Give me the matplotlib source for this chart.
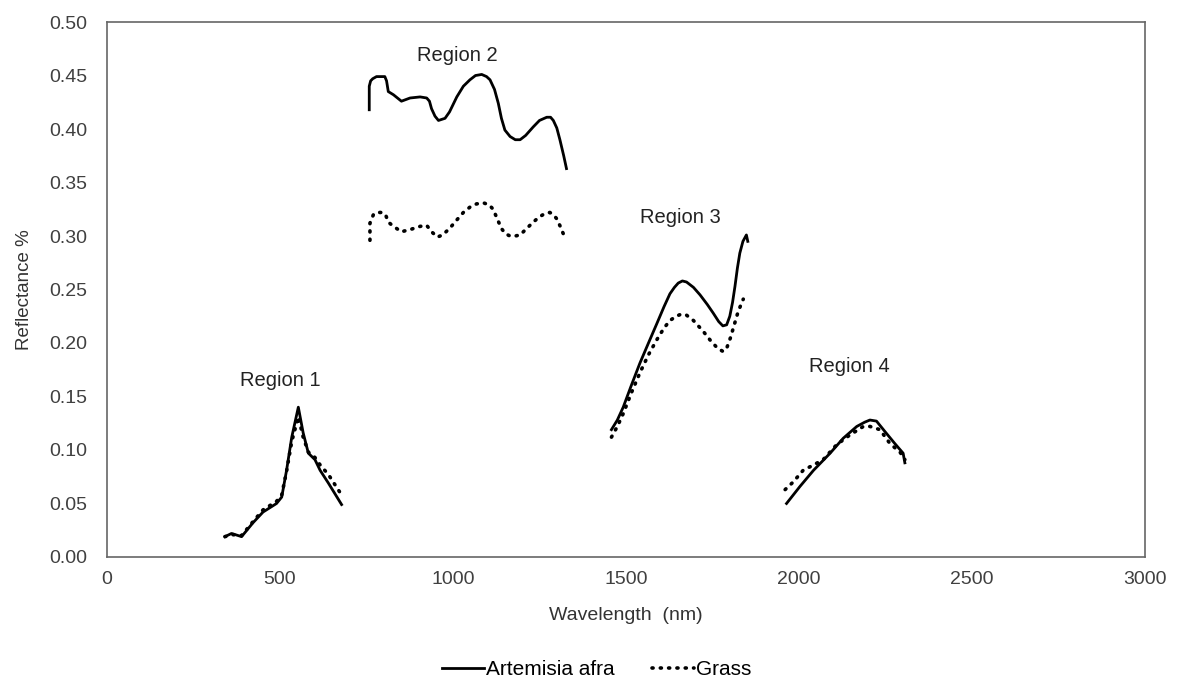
import matplotlib.pyplot as plt
import numpy as np

plt.rcParams['font.family'] = ['Liberation Sans', 'DejaVu Sans']

# Region 1
r1_wl = [341, 360, 389, 422, 451, 490, 505, 519, 534, 553, 567, 582, 601, 616, 640, 678]
r1_art = [0.019, 0.022, 0.019, 0.032, 0.042, 0.050, 0.056, 0.081, 0.112, 0.140, 0.116, 0.097, 0.091, 0.081, 0.069, 0.049]
r1_grass = [0.019, 0.021, 0.020, 0.033, 0.044, 0.052, 0.058, 0.080, 0.108, 0.131, 0.112, 0.098, 0.093, 0.086, 0.077, 0.058]

# Region 2
r2_wl = [758, 758, 762, 768, 779, 803, 808, 813, 828, 851, 876, 905, 924, 932, 938, 948, 958, 977,
         990, 1011, 1030, 1049, 1065, 1083, 1097, 1107, 1120, 1131, 1140, 1150, 1165, 1180, 1194,
         1210, 1232, 1250, 1271, 1282, 1290, 1300, 1309, 1320, 1328]
r2_art = [0.418, 0.440, 0.445, 0.447, 0.449, 0.449, 0.445, 0.435, 0.432, 0.426, 0.429, 0.430, 0.429,
          0.426, 0.419, 0.412, 0.408, 0.410, 0.416, 0.430, 0.440, 0.446, 0.450, 0.451, 0.449, 0.446,
          0.437, 0.424, 0.410, 0.399, 0.393, 0.390, 0.390, 0.394, 0.402, 0.408, 0.411, 0.411, 0.408,
          0.401, 0.390, 0.375, 0.363]
r2_gwl = [760, 760, 770, 780, 795, 805, 813, 828, 851, 876, 905, 924, 938, 955, 970, 990, 1011, 1030,
          1049, 1068, 1088, 1105, 1116, 1128, 1140, 1152, 1165, 1180, 1194, 1213, 1232, 1250, 1266,
          1280, 1290, 1300, 1310, 1324]
r2_grass = [0.296, 0.312, 0.320, 0.322, 0.322, 0.320, 0.313, 0.309, 0.304, 0.306, 0.309, 0.310, 0.304,
            0.299, 0.301, 0.307, 0.315, 0.322, 0.327, 0.330, 0.331, 0.329, 0.325, 0.316, 0.307, 0.302,
            0.300, 0.300, 0.301, 0.307, 0.313, 0.318, 0.321, 0.322, 0.320, 0.316, 0.309, 0.298]

# Region 3
r3_wl = [1458, 1475, 1492, 1515, 1540, 1565, 1589, 1610, 1627, 1640, 1651, 1663, 1675, 1695, 1714,
         1735, 1752, 1768, 1780, 1791, 1800, 1808, 1815, 1822, 1829, 1838, 1848, 1852]
r3_art = [0.119, 0.128, 0.140, 0.160, 0.181, 0.200, 0.218, 0.234, 0.246, 0.252, 0.256, 0.258, 0.257,
          0.252, 0.245, 0.236, 0.228, 0.220, 0.216, 0.217, 0.225, 0.238, 0.253, 0.270, 0.284, 0.295,
          0.301, 0.295]
r3_gwl = [1458, 1475, 1492, 1515, 1540, 1565, 1589, 1610, 1627, 1645, 1660, 1675, 1695, 1723, 1745,
          1765, 1781, 1792, 1802, 1812, 1822, 1830, 1839]
r3_grass = [0.112, 0.122, 0.134, 0.153, 0.172, 0.189, 0.203, 0.214, 0.221, 0.225, 0.227, 0.226, 0.221,
            0.211, 0.202, 0.195, 0.192, 0.196, 0.205, 0.216, 0.227, 0.234, 0.241]

# Region 4
r4_wl = [1964, 2003, 2042, 2090, 2128, 2167, 2190, 2205, 2224, 2249, 2277, 2301, 2306]
r4_art = [0.050, 0.066, 0.081, 0.097, 0.111, 0.122, 0.126, 0.128, 0.127, 0.117, 0.106, 0.097, 0.088]
r4_gwl = [1960, 1983, 2012, 2042, 2070, 2109, 2147, 2186, 2205, 2234, 2263, 2292, 2306]
r4_grass = [0.063, 0.070, 0.081, 0.086, 0.091, 0.105, 0.114, 0.122, 0.122, 0.119, 0.106, 0.098, 0.091]

region_names = ['Region 1', 'Region 2', 'Region 3', 'Region 4']
region_pos = [(500, 0.165), (1012, 0.469), (1656, 0.317), (2147, 0.178)]

fig = plt.figure(figsize=(11.77, 6.84), dpi=100)
ax = fig.add_axes([0.0909, 0.1857, 0.8819, 0.7821])

solid = dict(color='black', lw=2.0, ls='-')
dotted = dict(color='black', lw=2.6, ls=(0, (0.3, 2.0)), dash_capstyle='round')

ax.plot(r1_wl, r1_art, label='Artemisia afra', **solid)
ax.plot(r1_wl, r1_grass, label='Grass', **dotted)
ax.plot(r2_wl, r2_art, **solid)
ax.plot(r2_gwl, r2_grass, **dotted)
ax.plot(r3_wl, r3_art, **solid)
ax.plot(r3_gwl, r3_grass, **dotted)
ax.plot(r4_wl, r4_art, **solid)
ax.plot(r4_gwl, r4_grass, **dotted)

for name, (x, y) in zip(region_names, region_pos):
    ax.text(x, y, name, ha='center', va='center', fontsize=14.5, color='#222222')

ax.set_xlim(0, 3000)
ax.set_ylim(0, 0.5)
ax.set_xticks(np.arange(0, 3001, 500))
ax.set_yticks(np.arange(0, 0.501, 0.05))
ax.yaxis.set_major_formatter(plt.FormatStrFormatter('%.2f'))
ax.tick_params(axis='y', pad=14)
ax.tick_params(length=0, labelsize=14, colors='#404040')
ax.tick_params(axis='x', pad=10)
for s in ax.spines.values():
    s.set_color('#666666')
    s.set_linewidth(1.2)

ax.set_xlabel('Wavelength  (nm)', fontsize=14, color='#333333', labelpad=14)
ax.set_ylabel('Reflectance %', fontsize=13.5, color='#333333', labelpad=12)

fig.legend(loc='lower center', bbox_to_anchor=(0.507, -0.02), ncol=2, frameon=False,
           fontsize=15, handlelength=2.0, handletextpad=0.1, columnspacing=1.8)

fig.savefig('out.png', dpi=100)
